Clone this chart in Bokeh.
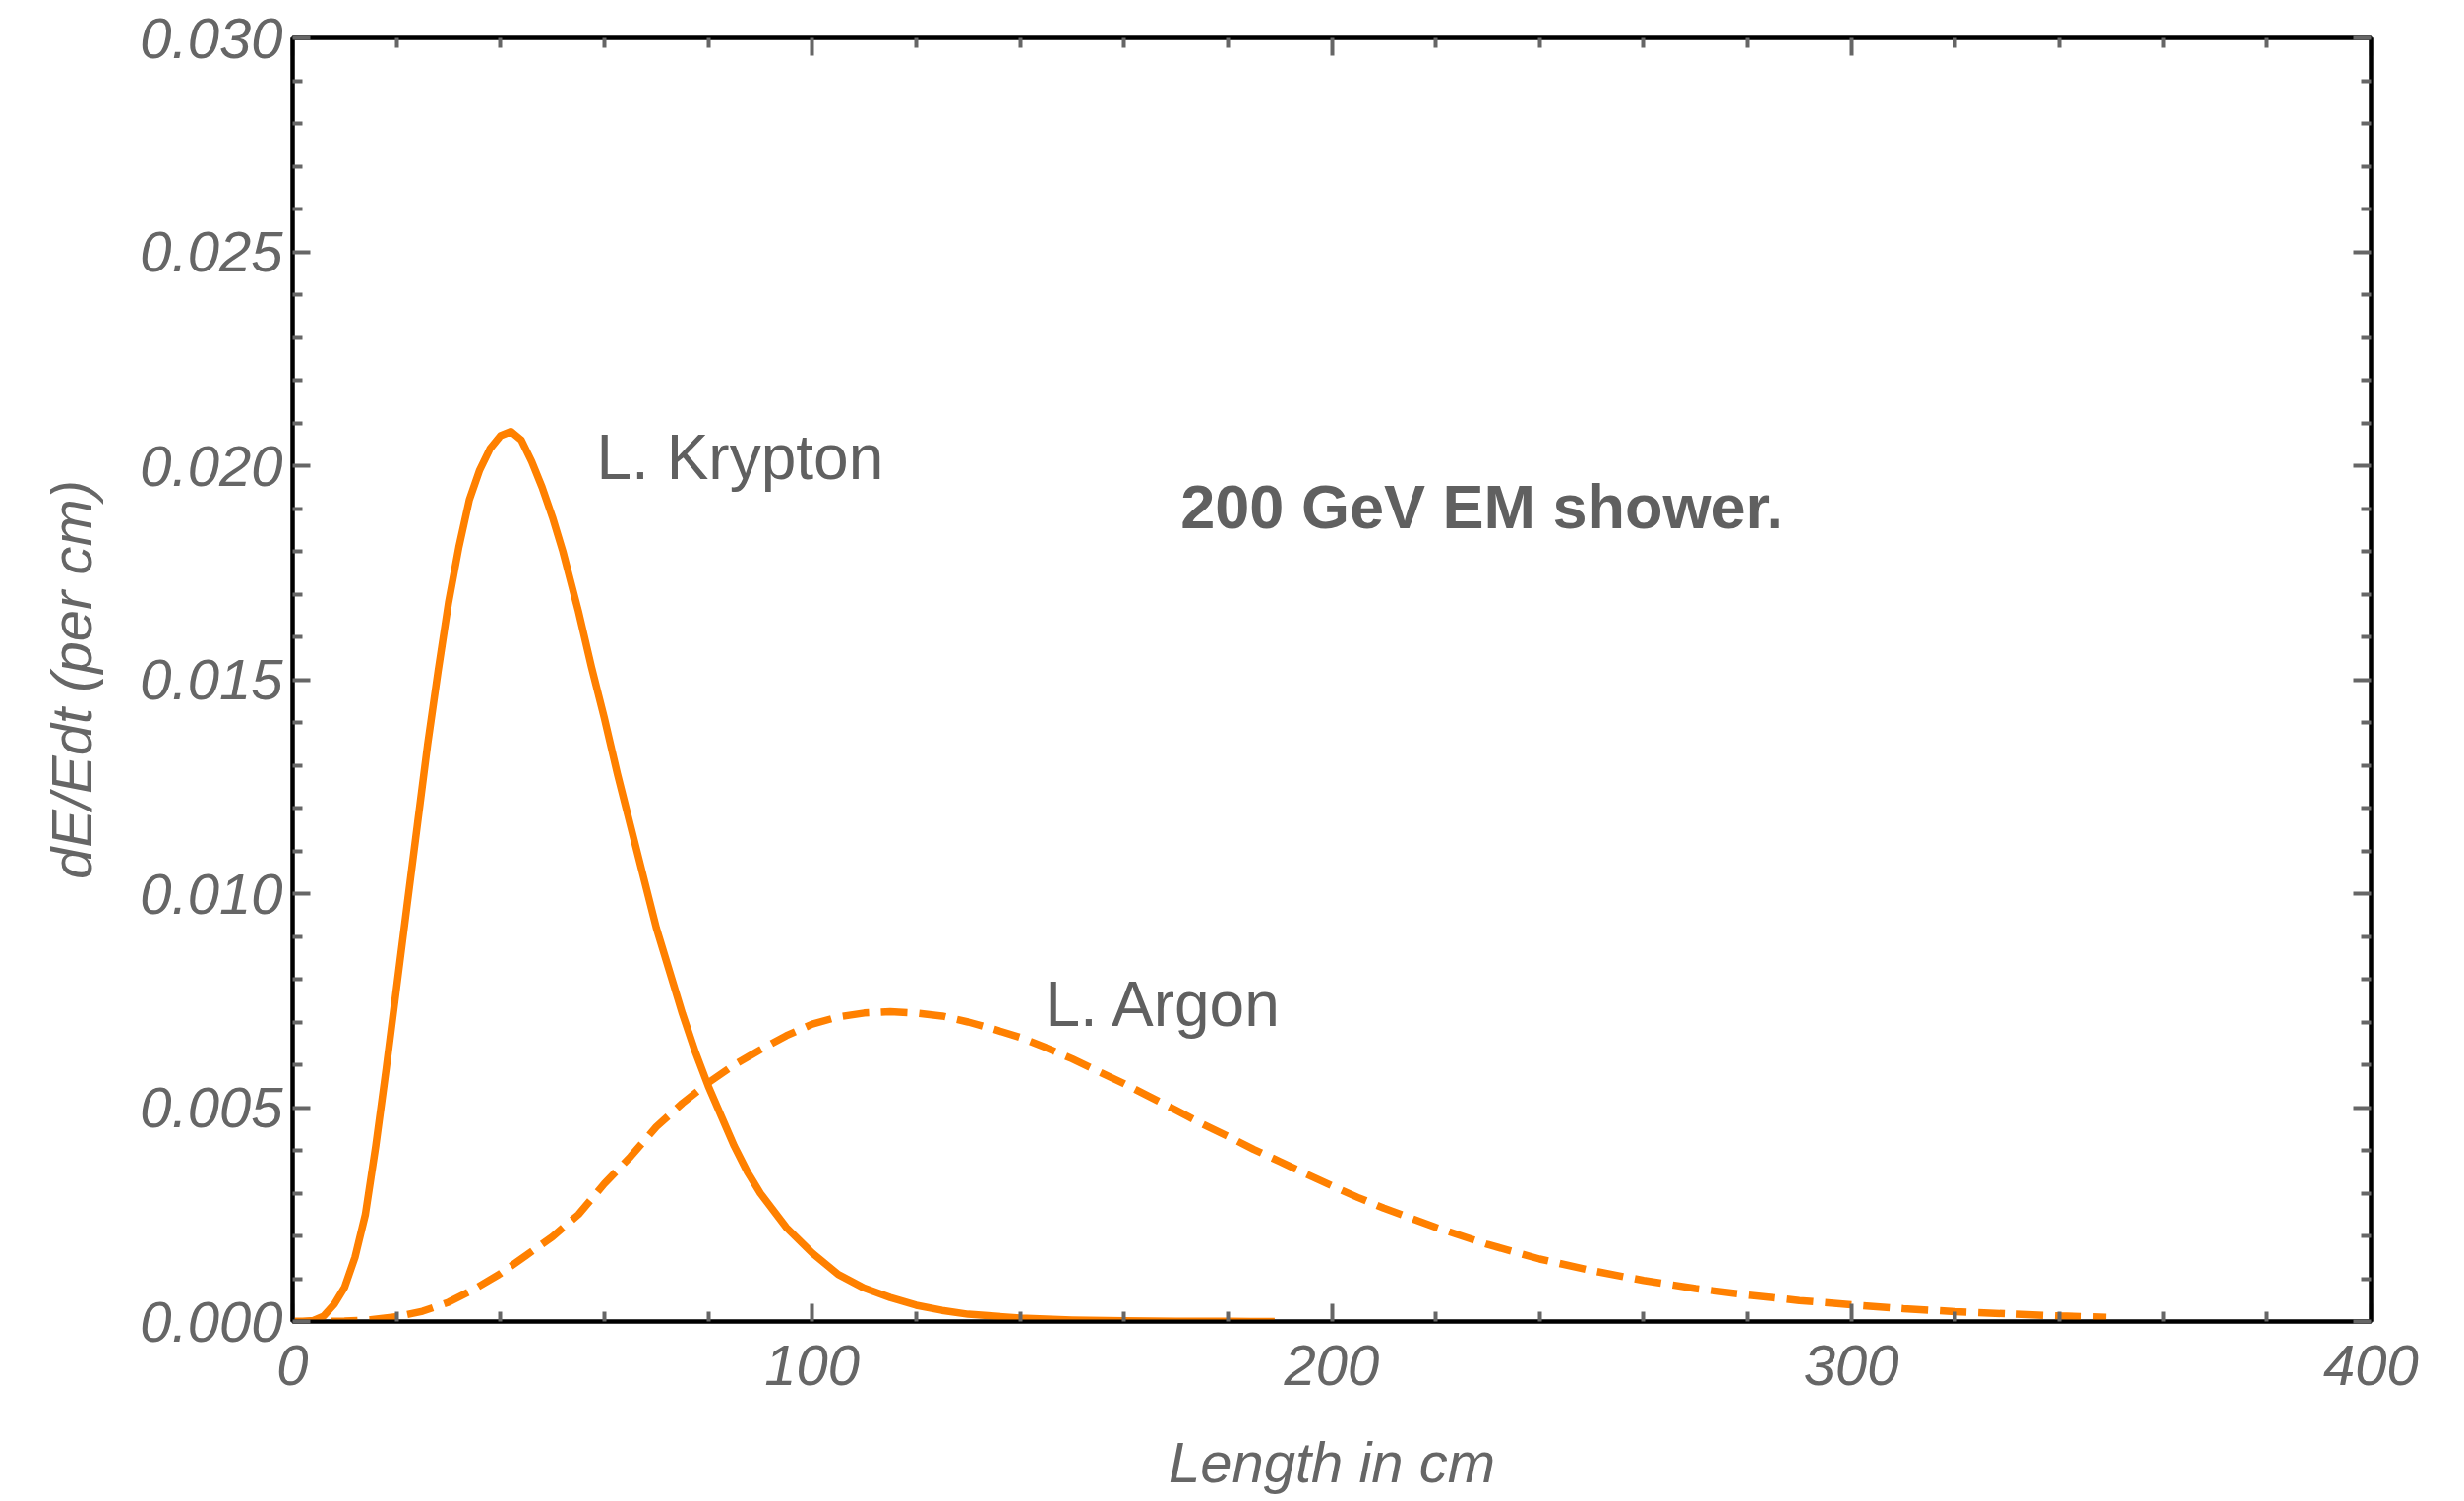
from bokeh.plotting import figure
from bokeh.models import Range1d, LinearAxis, FixedTicker, Label
from bokeh.embed import file_html
from bokeh.resources import INLINE

# ---- data ----
krypton_t = [0, 2, 4, 6, 8, 10, 12, 14, 16, 18, 20, 22, 24, 26, 28, 30, 32, 34, 36, 38, 40, 42,
             44, 46, 48, 50, 52, 55, 57.5, 60, 62.5, 65, 67.5, 70, 72.5, 75, 77.5, 80, 82.5, 85,
             87.5, 90, 95, 100, 105, 110, 115, 120, 125, 130, 140, 150, 160, 170, 180, 189]
krypton_v = [0.0, 0.000001, 0.000025, 0.00013, 0.0004, 0.0008, 0.0015, 0.0025, 0.0041, 0.0059,
             0.0078, 0.0097, 0.0116, 0.0135, 0.0152, 0.0168, 0.0181, 0.0192, 0.0199, 0.0204,
             0.0207, 0.0208, 0.0206, 0.0201, 0.0195, 0.0188, 0.0180, 0.0166, 0.0153, 0.0141,
             0.0128, 0.0116, 0.0104, 0.0092, 0.0082, 0.0072, 0.0063, 0.0055, 0.0048, 0.0041,
             0.0035, 0.0030, 0.0022, 0.0016, 0.0011, 0.00078, 0.00056, 0.00038, 0.00026, 0.00017,
             0.00008, 0.000035, 0.000015, 0.000006, 0.000003, 0.000001]

argon_t = [0, 10, 15, 20, 25, 30, 35, 40, 45, 50, 55, 60, 65, 70, 75, 80, 85, 90, 95, 100,
           105, 110, 115, 120, 125, 130, 135, 140, 145, 150, 155, 160, 165, 170, 175, 180, 185,
           190, 195, 200, 205, 210, 220, 230, 240, 250, 260, 270, 280, 290, 300, 310, 320, 330,
           340, 349]
argon_v = [0.0, 0.00001, 0.00004, 0.00011, 0.00024, 0.00045, 0.00076, 0.00112, 0.00155, 0.00198,
           0.00250, 0.00322, 0.00385, 0.00455, 0.00510, 0.00558, 0.00600, 0.00635, 0.00668, 0.00695,
           0.00712, 0.00721, 0.00724, 0.00721, 0.00714, 0.00700, 0.00683, 0.00664, 0.00640, 0.00614,
           0.00585, 0.00556, 0.00525, 0.00494, 0.00462, 0.00433, 0.00402, 0.00374, 0.00345, 0.00317,
           0.00290, 0.00265, 0.00220, 0.00180, 0.00146, 0.00119, 0.00096, 0.00077, 0.00062, 0.00049,
           0.00039, 0.00030, 0.00023, 0.00018, 0.00013, 0.00010]

x_ticks = [0, 100, 200, 300, 400]
x_tick_labels = ["0", "100", "200", "300", "400"]
x_minor = [20, 40, 60, 80, 120, 140, 160, 180, 220, 240, 260, 280, 320, 340, 360, 380]
y_ticks = [0.0, 0.005, 0.010, 0.015, 0.020, 0.025, 0.030]
y_tick_labels = ["0.000", "0.005", "0.010", "0.015", "0.020", "0.025", "0.030"]
y_minor = [0.001, 0.002, 0.003, 0.004, 0.006, 0.007, 0.008, 0.009, 0.011, 0.012, 0.013, 0.014,
           0.016, 0.017, 0.018, 0.019, 0.021, 0.022, 0.023, 0.024, 0.026, 0.027, 0.028, 0.029]

FONT = "Liberation Sans"
TICK_GRAY = "#666666"
TEXT_GRAY = "#606060"
ORANGE = "#FF8000"

p = figure(width=2505, height=1526, x_range=Range1d(0, 400), y_range=Range1d(0, 0.03),
           output_backend="svg", toolbar_location=None,
           min_border_left=297, min_border_right=95, min_border_top=38, min_border_bottom=183)
p.xgrid.visible = False
p.ygrid.visible = False
p.outline_line_color = "black"
p.outline_line_width = 4
p.background_fill_color = "white"
p.border_fill_color = "white"


def style_axis(ax, ticks, minor, labels, show_labels):
    ax.ticker = FixedTicker(ticks=ticks, minor_ticks=minor)
    ax.major_label_overrides = {t: l for t, l in zip(ticks, labels)}
    ax.axis_line_color = "black"
    ax.axis_line_width = 4
    ax.major_tick_in = 18
    ax.major_tick_out = 0
    ax.minor_tick_in = 10
    ax.minor_tick_out = 0
    ax.major_tick_line_color = TICK_GRAY
    ax.minor_tick_line_color = TICK_GRAY
    ax.major_tick_line_width = 4
    ax.minor_tick_line_width = 4
    ax.major_label_text_font = FONT
    ax.major_label_text_font_style = "italic"
    ax.major_label_text_color = TICK_GRAY
    if show_labels:
        ax.major_label_text_font_size = "58px"
    else:
        ax.major_label_text_font_size = "1px"
        ax.major_label_text_alpha = 0
        ax.major_label_standoff = 0


xa = p.xaxis[0]
style_axis(xa, x_ticks, x_minor, x_tick_labels, True)
xa.major_label_standoff = 24
xa.axis_label = "Length in cm"
xa.axis_label_text_font = FONT
xa.axis_label_text_font_style = "italic"
xa.axis_label_text_font_size = "58px"
xa.axis_label_text_color = TICK_GRAY
xa.axis_label_standoff = 43

ya = p.yaxis[0]
style_axis(ya, y_ticks, y_minor, y_tick_labels, True)
ya.major_label_standoff = 10
ya.axis_label = "dE/Edt (per cm)"
ya.axis_label_text_font = FONT
ya.axis_label_text_font_style = "italic"
ya.axis_label_text_font_size = "58px"
ya.axis_label_text_color = TICK_GRAY
ya.axis_label_standoff = 34

top = LinearAxis()
style_axis(top, x_ticks, x_minor, x_tick_labels, False)
p.add_layout(top, "above")
right = LinearAxis()
style_axis(right, y_ticks, y_minor, y_tick_labels, False)
p.add_layout(right, "right")

p.line(krypton_t, krypton_v, line_color=ORANGE, line_width=7.5, line_join="round")
p.line(argon_t, argon_v, line_color=ORANGE, line_width=7.5, line_dash="27 12")

p.add_layout(Label(x=58.5, y=0.0202, text="L. Krypton", text_font=FONT, text_font_size="64px",
                   text_color=TEXT_GRAY, text_baseline="alphabetic", text_align="left"))
p.add_layout(Label(x=144.8, y=0.00742, text="L. Argon", text_font=FONT, text_font_size="64px",
                   text_color=TEXT_GRAY, text_baseline="alphabetic", text_align="left"))
p.add_layout(Label(x=170.9, y=0.01905, text="200 GeV EM shower.", text_font=FONT,
                   text_font_size="63px", text_font_style="bold",
                   text_color=TEXT_GRAY, text_baseline="alphabetic", text_align="left"))

open("out.html", "w").write(file_html(p, INLINE))
